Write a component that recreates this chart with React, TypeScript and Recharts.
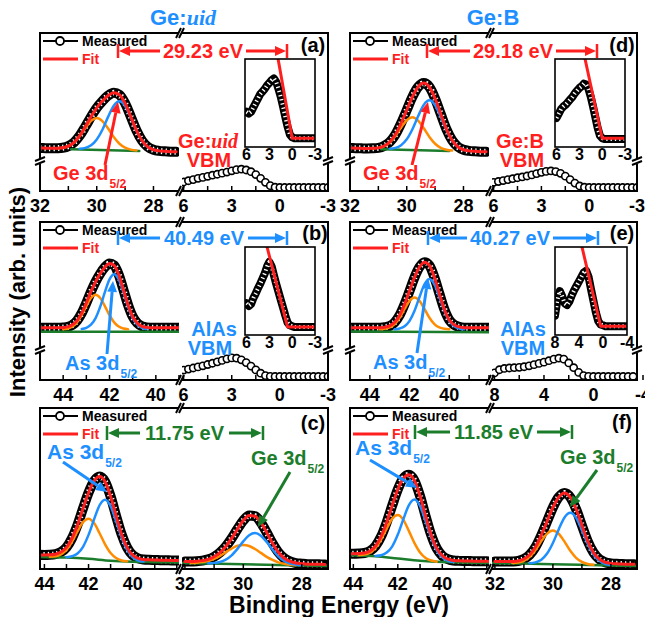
// =============================================================================
// XPS panels (a)-(f): core levels + valence band maxima, broken energy axes
// =============================================================================

import { LineChart, Line, XAxis, YAxis } from 'recharts'

const FONT = "'Liberation Sans', Arial, Helvetica, sans-serif"
const RED = '#ff1f1f'
const BLUE = '#1e8fff'
const GREEN = '#1b7d2c'
const ORANGE = '#ff8c00'

// ---- energy grids (eV) ----
const geGrid = [32, 31.8, 31.6, 31.4, 31.2, 31, 30.8, 30.6, 30.4, 30.2, 30, 29.8, 29.6, 29.4, 29.2, 29, 28.8, 28.6, 28.4, 28.2, 28, 27.8, 27.6, 27.4, 27.2]
const asGridB = [45, 44.8, 44.6, 44.4, 44.2, 44, 43.8, 43.6, 43.4, 43.2, 43, 42.8, 42.6, 42.4, 42.2, 42, 41.8, 41.6, 41.4, 41.2, 41, 40.8, 40.6, 40.4, 40.2, 40, 39.8, 39.6, 39.4, 39.2, 39]
const asGridE = [45, 44.75, 44.5, 44.25, 44, 43.75, 43.5, 43.25, 43, 42.75, 42.5, 42.25, 42, 41.75, 41.5, 41.25, 41, 40.75, 40.5, 40.25, 40, 39.75, 39.5, 39.25, 39, 38.75, 38.5, 38.25, 38]
const asGridCF = [44.25, 44, 43.75, 43.5, 43.25, 43, 42.75, 42.5, 42.25, 42, 41.75, 41.5, 41.25, 41, 40.75, 40.5, 40.25, 40, 39.75, 39.5, 39.25, 39, 38.75, 38.5, 38.25, 38, 37.75]
const vbmGrid = [6, 5.7, 5.4, 5.1, 4.8, 4.5, 4.2, 3.9, 3.6, 3.3, 3, 2.7, 2.4, 2.1, 1.8, 1.5, 1.2, 0.9, 0.6, 0.3, 0, -0.3, -0.6, -0.9, -1.2, -1.5, -1.8, -2.1, -2.4, -2.7, -3]
const vbmGridE = [8, 7.6, 7.2, 6.8, 6.4, 6, 5.6, 5.2, 4.8, 4.4, 4, 3.6, 3.2, 2.8, 2.4, 2, 1.6, 1.2, 0.8, 0.4, 0, -0.4, -0.8, -1.2, -1.6, -2, -2.4, -2.8, -3.2]
const insetGridE = [8, 7.6, 7.2, 6.8, 6.4, 6, 5.6, 5.2, 4.8, 4.4, 4, 3.6, 3.2, 2.8, 2.4, 2, 1.6, 1.2, 0.8, 0.4, 0, -0.4, -0.8, -1.2, -1.6, -2, -2.4, -2.8, -3.2, -3.6, -4]

// ---- ticks ----
const geTicks = [32, 31, 30, 29, 28]
const geLabels = [32, 30, 28]
const asTicksB = [45, 44, 43, 42, 41, 40, 39]
const asTicksE = [45, 44, 43, 42, 41, 40, 39, 38]
const asTicksCF = [44, 43, 42, 41, 40, 39, 38]
const asLabels = [44, 42, 40]
const vbTicks = [6, 4.5, 3, 1.5, 0, -1.5, -3]
const vbLabels = [6, 3, 0, -3]
const vbTicksE = [8, 6, 4, 2, 0, -2, -4]
const vbLabelsE = [8, 4, 0, -4]
const inTicks = [6, 3, 0, -3]
const inTicksE = [8, 4, 0, -4]

// ---- (a) Ge:uid ----
const aGeFit = [27.2, 27.1, 27.0, 27.1, 27.4, 28.4, 30.8, 35.0, 40.8, 47.0, 52.6, 56.9, 60.4, 62.2, 60.9, 55.5, 47.1, 38.4, 31.8, 27.9, 26.1, 25.4, 25.1, 24.9, 24.8]
const aGeLow = [27.1, 27.4, 28.4, 30.7, 34.7, 39.9, 44.4, 46.2, 44.2, 39.5, 34.1, 29.9, 27.4, 26.2, 25.7]
const aGeHigh = [26.8, 27.3, 28.9, 32.6, 38.8, 46.9, 54.0, 56.8, 53.8, 46.5, 38.2, 31.8, 27.9, 26.1, 25.4]
const aBgX = [30.9, 28.5]
const aBgY = [26.4, 25.3]
const aVbm = [5.7, 6.5, 7.2, 8.0, 8.6, 9.3, 10.0, 10.6, 11.3, 12.0, 12.8, 13.5, 13.8, 13.3, 12.2, 10.4, 8.0, 5.5, 3.4, 2.4, 2.2, 2.2, 2.2, 2.2, 2.2, 2.2, 2.2, 2.2, 2.2, 2.2, 2.2]
const aInset = [40, 38, 40, 45, 50, 55, 60, 63, 66, 70, 73, 76, 78, 74, 66, 57, 46, 34, 23, 14, 11, 10, 10, 10, 10, 10, 10, 10, 10, 10, 10]
const aInFitX = [1.85, 0, -3]
const aInFitY = [100, 10, 10]

// ---- (b) Ge:uid, AlAs ----
const bAsFit = [33.0, 33.0, 33.0, 33.0, 33.0, 33.2, 33.6, 34.9, 37.6, 42.3, 48.8, 55.9, 62.2, 67.3, 71.4, 73.7, 72.5, 66.6, 57.2, 47.6, 40.2, 36.0, 34.0, 33.3, 33.1, 33.0, 33.0, 33.0, 33.0, 33.0, 33.0]
const bAsLow = [32.2, 32.6, 33.9, 36.5, 41.0, 46.8, 51.9, 54.0, 51.9, 46.8, 41.0, 36.5, 33.9, 32.6, 32.2]
const bAsHigh = [32.3, 33.0, 35.0, 39.2, 46.4, 55.6, 63.7, 67.0, 63.7, 55.6, 46.4, 39.2, 35.0, 33.0, 32.3]
const bBgX = [45, 39]
const bBgY = [30.6, 30.6]
const bVbm = [6.3, 6.9, 7.6, 8.3, 9.0, 9.8, 10.6, 11.5, 12.4, 13.4, 14.0, 13.8, 12.8, 11.0, 8.8, 6.4, 4.3, 2.8, 2.3, 2.2, 2.2, 2.2, 2.2, 2.2, 2.2, 2.2, 2.2, 2.2, 2.2, 2.2, 2.2]
const bInset = [36, 33, 35, 42, 47, 53, 58, 64, 70, 78, 83, 78, 68, 58, 49, 40, 31, 22, 14, 11, 10, 9, 9, 9, 9, 9, 9, 9, 9, 9, 9]
const bInFitX = [3.3, 0.6, -3]
const bInFitY = [100, 9, 9]

// ---- (c) Ge:uid, As 3d + Ge 3d ----
const cAsFit = [8.8, 8.7, 8.8, 9.2, 10.5, 13.4, 19.1, 27.4, 37.6, 47.4, 54.6, 57.4, 54.2, 45.1, 32.9, 21.5, 13.3, 8.6, 6.6, 5.9, 5.7, 5.55, 5.5, 5.4, 5.35, 5.3, 5.3]
const cAsLow = [7.6, 7.9, 9.1, 11.9, 16.9, 23.3, 29.1, 31.2, 28.5, 22.2, 15.3, 9.9, 6.8, 5.3, 4.75]
const cAsHigh = [7.3, 7.9, 9.6, 13.8, 21.2, 30.8, 39.6, 43.0, 39.0, 29.7, 19.6, 11.8, 7.3, 5.3, 4.6]
const cAsBgX = [44.25, 43, 42, 41, 40, 39, 37.75]
const cAsBgY = [7.5, 7.1, 6.3, 5.1, 4.5, 4.25, 4.0]
const cGeFit = [4.6, 4.6, 4.8, 5.2, 6.0, 7.6, 10.2, 14.0, 19.0, 24.8, 30.1, 33.2, 32.8, 28.9, 22.7, 16.0, 10.4, 6.7, 4.7, 3.7, 3.3, 3.0, 2.95, 2.9, 2.8]
const cGeLow = [3.7, 3.9, 4.3, 5.0, 6.3, 8.15, 10.5, 12.7, 14.4, 14.95, 14.3, 12.4, 10.0, 7.55, 5.6, 4.1, 3.2, 2.7, 2.4]
const cGeHigh = [3.5, 3.7, 4.35, 5.8, 8.5, 12.5, 17.15, 20.9, 22.3, 20.7, 16.85, 12.1, 7.9, 5.0, 3.45, 2.7, 2.3]
const cGeBgX = [32.1, 30, 28, 27.1]
const cGeBgY = [3.7, 2.95, 2.2, 1.9]

// ---- (d) Ge:B ----
const dGeFit = [27.2, 27.1, 27.0, 26.9, 27.0, 27.3, 28.5, 31.0, 35.7, 42.8, 51.2, 59.6, 65.8, 68.3, 65.8, 58.5, 48.7, 39.1, 32.1, 28.0, 26.1, 25.4, 25.1, 24.9, 24.8]
const dGeLow = [27.0, 27.3, 28.3, 30.7, 34.8, 40.1, 44.8, 46.6, 44.6, 39.7, 34.2, 29.9, 27.3, 26.1, 25.6]
const dGeHigh = [26.8, 27.3, 29.0, 32.7, 39.1, 47.3, 54.5, 57.4, 54.3, 46.9, 38.5, 31.9, 28.0, 26.1, 25.4]
const dBgX = [30.9, 28.5]
const dBgY = [26.4, 25.3]
const dVbm = [5.5, 6.0, 6.6, 7.2, 7.8, 8.4, 8.9, 9.5, 10.2, 11.0, 11.8, 12.4, 12.7, 12.3, 11.2, 9.4, 7.2, 5.0, 3.2, 2.4, 2.2, 2.2, 2.2, 2.2, 2.2, 2.2, 2.2, 2.2, 2.2, 2.2, 2.2]
const dInset = [33, 38, 43, 46, 48, 51, 54, 57, 61, 64, 67, 69, 72, 71, 66, 57, 46, 34, 22, 13, 10, 9, 9, 9, 9, 9, 9, 9, 9, 9, 9]
const dInFitX = [2.25, 0, -3]
const dInFitY = [100, 10, 10]

// ---- (e) Ge:B, AlAs ----
const eAsFit = [33.0, 33.0, 33.0, 33.0, 33.0, 33.0, 33.1, 33.4, 34.2, 36.5, 41.0, 48.0, 56.4, 65.0, 71.5, 74.6, 72.5, 65.0, 54.7, 44.8, 38.0, 34.9, 33.6, 33.1, 33.0, 33.0, 33.0, 33.0, 33.0]
const eAsLow = [32.1, 32.4, 33.3, 35.4, 39.4, 45.0, 50.1, 52.2, 50.1, 45.0, 39.4, 35.4, 33.3, 32.4, 32.1]
const eAsHigh = [32.1, 32.6, 34.0, 37.4, 43.8, 52.5, 60.6, 64.0, 60.6, 52.5, 43.8, 37.4, 34.0, 32.6, 32.1]
const eBgX = [45, 38]
const eBgY = [30.7, 30.2]
const eVbm = [4.5, 6.5, 7.3, 7.6, 7.8, 8.0, 8.4, 9.0, 9.7, 10.5, 11.3, 12.2, 13.2, 13.8, 13.2, 10.8, 7.8, 4.8, 2.8, 2.3, 2.2, 2.2, 2.2, 2.2, 2.2, 2.2, 2.2, 2.2, 2.2]
const eInset = [22, 40, 50, 44, 36, 34, 38, 45, 51, 56, 61, 66, 71, 73, 66, 52, 39, 26, 16, 12, 11, 10, 10, 10, 10, 10, 10, 10, 10, 10, 10]
const eInFitX = [3.5, 0.4, -4]
const eInFitY = [100, 10, 10]

// ---- (f) Ge:B, As 3d + Ge 3d ----
const fAsFit = [9.6, 9.5, 9.6, 9.95, 11.2, 14.3, 20.2, 29.0, 39.5, 49.4, 56.4, 58.5, 54.8, 45.3, 32.75, 21.15, 12.8, 8.2, 6.1, 5.3, 5.05, 4.95, 4.9, 4.85, 4.8, 4.75, 4.7]
const fAsLow = [8.6, 8.95, 10.15, 13.1, 18.3, 25.1, 31.3, 33.5, 30.5, 23.5, 16.1, 10.3, 6.85, 5.25, 4.55]
const fAsHigh = [8.1, 8.5, 10.2, 14.1, 21.4, 31.0, 39.7, 43.1, 39.1, 29.7, 19.5, 11.6, 7.2, 5.1, 4.3]
const fAsBgX = [44.25, 43, 42, 41, 40, 37.75]
const fAsBgY = [8.6, 7.9, 6.5, 5.1, 4.3, 3.7]
const fGeFit = [4.7, 4.6, 4.6, 4.7, 5.0, 6.2, 8.8, 13.7, 21.0, 29.6, 38.2, 44.6, 47.2, 44.5, 37.2, 27.1, 17.3, 10.2, 6.1, 4.2, 3.5, 3.2, 3.05, 3.0, 2.9]
const fGeLow = [3.7, 4.0, 5.1, 7.55, 11.8, 17.3, 22.0, 23.95, 21.9, 17.0, 11.3, 6.95, 4.4, 3.1, 2.6]
const fGeHigh = [3.5, 4.1, 5.8, 9.6, 16.15, 24.6, 32.0, 34.9, 31.85, 24.3, 15.7, 9.0, 5.05, 3.2, 2.5]
const fGeBgX = [32.1, 30, 28, 27.1]
const fGeBgY = [3.7, 2.95, 2.2, 1.9]

type Curve = { xs: number[]; ys: number[]; color: string; w?: number; dots?: boolean; dash?: string; straight?: boolean }

const RING = { r: 3.6, fill: '#fff', stroke: '#000', strokeWidth: 1.6 }

// measured (dense open circles -> black band with white texture), background, two components, fit
const peak = (xs: number[], fit: number[], bgX: number[], bgY: number[], lowX: number[], low: number[], highX: number[], high: number[]): Curve[] => [
  { xs, ys: fit, color: '#000', w: 10 },
  { xs, ys: fit, color: '#fff', w: 6, dash: '1.3 3.2' },
  { xs: bgX, ys: bgY, color: GREEN, w: 2.5 },
  { xs: lowX, ys: low, color: ORANGE, w: 2.5 },
  { xs: highX, ys: high, color: BLUE, w: 2.5 },
  { xs, ys: fit, color: RED, w: 3 }
]
const measured = (xs: number[], ys: number[]): Curve[] => [{ xs, ys, color: '#000', w: 1.5, dots: true }]
const inset = (xs: number[], ys: number[], fx: number[], fy: number[]): Curve[] => [
  { xs, ys, color: '#000', w: 8, straight: true },
  { xs, ys, color: '#fff', w: 4, dash: '1.3 3', straight: true },
  { xs: fx, ys: fy, color: RED, w: 3, straight: true }
]

interface SubProps {
  x: number
  y: number
  w: number
  h: number
  domain: [number, number]
  ticks: number[]
  labels: number[]
  curves: Curve[]
  small?: boolean
}

function Sub({ x, y, w, h, domain, ticks, labels, curves, small = false }: SubProps) {
  const fs = small ? 16 : 18
  const tick = (p: any) => {
    const v = p.payload.value
    if (!labels.includes(v)) return <g />
    return (
      <text x={p.x} y={p.y} dy="0.72em" textAnchor="middle" fontFamily={FONT} fontWeight="bold" fontSize={fs} fill="#000">
        {v}
      </text>
    )
  }
  return (
    <div style={{ position: 'absolute', left: x, top: y }}>
      <LineChart width={w} height={h + 30} margin={{ top: 0, right: 0, bottom: 0, left: 0 }}>
        <XAxis
          type="number"
          dataKey="x"
          domain={domain}
          reversed
          allowDataOverflow
          ticks={ticks}
          interval={0}
          axisLine={false}
          tickLine={small ? false : { stroke: '#000', strokeWidth: 1.5 }}
          tickSize={small ? 0 : -5}
          tickMargin={small ? 1 : 13}
          height={30}
          tick={tick}
        />
        <YAxis type="number" domain={[0, 100]} hide allowDataOverflow />
        {curves.map((c, i) => (
          <Line
            key={i}
            data={c.xs.map((v, j) => ({ x: v, y: c.ys[j] }))}
            dataKey="y"
            type={c.dots || c.straight ? 'linear' : 'monotone'}
            stroke={c.color}
            strokeWidth={c.w ?? 2.5}
            strokeDasharray={c.dash}
            strokeLinejoin="round"
            strokeLinecap={c.dash ? 'butt' : 'round'}
            dot={c.dots ? RING : false}
            activeDot={false}
            isAnimationActive={false}
          />
        ))}
      </LineChart>
    </div>
  )
}

// ---- overlay helpers ----
function Arrow({ x1, y1, x2, y2, color, w = 3, head = 11 }: { x1: number; y1: number; x2: number; y2: number; color: string; w?: number; head?: number }) {
  const a = Math.atan2(y2 - y1, x2 - x1)
  const bx = x2 - head * Math.cos(a)
  const by = y2 - head * Math.sin(a)
  const nx = -Math.sin(a) * head * 0.45
  const ny = Math.cos(a) * head * 0.45
  return (
    <g>
      <line x1={x1} y1={y1} x2={bx} y2={by} stroke={color} strokeWidth={w} />
      <polygon points={`${x2},${y2} ${bx + nx},${by + ny} ${bx - nx},${by - ny}`} fill={color} />
    </g>
  )
}

function Span({ xl, xr, tl, tr, y, color, label }: { xl: number; xr: number; tl: number; tr: number; y: number; color: string; label: string }) {
  return (
    <g>
      <line x1={xl} y1={y - 7} x2={xl} y2={y + 7} stroke={color} strokeWidth={2.5} />
      <line x1={xr} y1={y - 7} x2={xr} y2={y + 7} stroke={color} strokeWidth={2.5} />
      <Arrow x1={tl} y1={y} x2={xl + 1} y2={y} color={color} />
      <Arrow x1={tr} y1={y} x2={xr - 1} y2={y} color={color} />
      <text x={(tl + tr) / 2} y={y + 7} textAnchor="middle" fontSize={20} fontWeight="bold" fill={color}>
        {label}
      </text>
    </g>
  )
}

function Core({ x, y, name, color, fs = 20 }: { x: number; y: number; name: string; color: string; fs?: number }) {
  return (
    <text x={x} y={y} fontSize={fs} fontWeight="bold" fill={color}>
      {name}
      <tspan dx={1} dy={8} fontSize={12}>5/2</tspan>
    </text>
  )
}

function Legend({ L, T }: { L: number; T: number }) {
  return (
    <g>
      <line x1={L + 3} y1={T + 8} x2={L + 38} y2={T + 8} stroke="#000" strokeWidth={2} />
      <circle cx={L + 20} cy={T + 8} r={4} fill="#fff" stroke="#000" strokeWidth={1.8} />
      <text x={L + 42} y={T + 13} fontSize={14} fontWeight="bold" fill="#000">Measured</text>
      <line x1={L + 3} y1={T + 26} x2={L + 38} y2={T + 26} stroke={RED} strokeWidth={3} />
      <text x={L + 42} y={T + 31} fontSize={14} fontWeight="bold" fill={RED}>Fit</text>
    </g>
  )
}

function Frame({ L, b1, b2, R, T, B, ybreak }: { L: number; b1: number; b2: number; R: number; T: number; B: number; ybreak: boolean }) {
  return (
    <g stroke="#000" strokeWidth={2} fill="none">
      <path d={`M${b1} ${T} H${L} V${B} H${b1}`} />
      <path d={`M${b2} ${T} H${R} V${B} H${b2}`} />
      {[T, B].map(y => (
        <g key={y}>
          <line x1={b1 - 3} y1={y + 5} x2={b1 + 2} y2={y - 5} />
          <line x1={b2 - 3} y1={y + 5} x2={b2 + 2} y2={y - 5} />
        </g>
      ))}
      {ybreak &&
        [L, R].map(x => (
          <g key={x}>
            <rect x={x - 3} y={B - 32} width={6} height={5} fill="#fff" stroke="none" />
            <line x1={x - 5} y1={B - 30} x2={x + 5} y2={B - 34} />
            <line x1={x - 5} y1={B - 26} x2={x + 5} y2={B - 30} />
          </g>
        ))}
    </g>
  )
}

export default function App() {
  return (
    <div style={{ position: 'absolute', left: 0, top: 0, width: 645, height: 617, background: '#fff', overflow: 'hidden', fontFamily: FONT }}>
      <style>{'.recharts-surface{overflow:visible}'}</style>

      {/* (a) */}
      <Sub x={40} y={33} w={139} h={158} domain={[27.1, 32]} ticks={geTicks} labels={geLabels}
        curves={peak(geGrid, aGeFit, aBgX, aBgY, geGrid.slice(3, 18), aGeLow, geGrid.slice(7, 22), aGeHigh)} />
      <Sub x={182} y={33} w={146} h={158} domain={[-3, 6.1]} ticks={vbTicks} labels={vbLabels} curves={measured(vbmGrid, aVbm)} />
      <Sub x={245} y={59} w={70} h={88} domain={[-3, 6.2]} ticks={inTicks} labels={inTicks} small
        curves={inset(vbmGrid, aInset, aInFitX, aInFitY)} />

      {/* (b) */}
      <Sub x={40} y={222} w={139} h={158} domain={[39, 45]} ticks={asTicksB} labels={asLabels}
        curves={peak(asGridB, bAsFit, bBgX, bBgY, asGridB.slice(5, 20), bAsLow, asGridB.slice(9, 24), bAsHigh)} />
      <Sub x={182} y={222} w={146} h={158} domain={[-3, 6.1]} ticks={vbTicks} labels={vbLabels} curves={measured(vbmGrid, bVbm)} />
      <Sub x={245} y={247} w={70} h={88} domain={[-3, 6.2]} ticks={inTicks} labels={inTicks} small
        curves={inset(vbmGrid, bInset, bInFitX, bInFitY)} />

      {/* (c) */}
      <Sub x={40} y={408} w={139} h={161} domain={[37.9, 44.2]} ticks={asTicksCF} labels={asLabels}
        curves={peak(asGridCF, cAsFit, cAsBgX, cAsBgY, asGridCF.slice(2, 17), cAsLow, asGridCF.slice(5, 20), cAsHigh)} />
      <Sub x={182} y={408} w={146} h={161} domain={[27.1, 32.1]} ticks={geTicks} labels={geLabels}
        curves={peak(geGrid, cGeFit, cGeBgX, cGeBgY, geGrid.slice(1, 20), cGeLow, geGrid.slice(4, 21), cGeHigh)} />

      {/* (d) */}
      <Sub x={350} y={33} w={139} h={158} domain={[27.1, 32]} ticks={geTicks} labels={geLabels}
        curves={peak(geGrid, dGeFit, dBgX, dBgY, geGrid.slice(4, 19), dGeLow, geGrid.slice(7, 22), dGeHigh)} />
      <Sub x={492} y={33} w={145} h={158} domain={[-3, 6.1]} ticks={vbTicks} labels={vbLabels} curves={measured(vbmGrid, dVbm)} />
      <Sub x={555} y={59} w={70} h={88} domain={[-3, 6.2]} ticks={inTicks} labels={inTicks} small
        curves={inset(vbmGrid, dInset, dInFitX, dInFitY)} />

      {/* (e) */}
      <Sub x={350} y={222} w={139} h={158} domain={[38, 45]} ticks={asTicksE} labels={asLabels}
        curves={peak(asGridE, eAsFit, eBgX, eBgY, asGridE.slice(6, 21), eAsLow, asGridE.slice(9, 24), eAsHigh)} />
      <Sub x={492} y={222} w={151} h={158} domain={[-4, 8.2]} ticks={vbTicksE} labels={vbLabelsE} curves={measured(vbmGridE, eVbm)} />
      <Sub x={555} y={247} w={72} h={88} domain={[-4, 8]} ticks={inTicksE} labels={inTicksE} small
        curves={inset(insetGridE, eInset, eInFitX, eInFitY)} />

      {/* (f) */}
      <Sub x={350} y={408} w={139} h={161} domain={[37.9, 44.15]} ticks={asTicksCF} labels={asLabels}
        curves={peak(asGridCF, fAsFit, fAsBgX, fAsBgY, asGridCF.slice(2, 17), fAsLow, asGridCF.slice(5, 20), fAsHigh)} />
      <Sub x={492} y={408} w={145} h={161} domain={[27.1, 32.1]} ticks={geTicks} labels={geLabels}
        curves={peak(geGrid, fGeFit, fGeBgX, fGeBgY, geGrid.slice(3, 18), fGeLow, geGrid.slice(6, 21), fGeHigh)} />

      {/* frames, labels, arrows */}
      <svg width={645} height={617} style={{ position: 'absolute', left: 0, top: 0, pointerEvents: 'none' }} fontFamily={FONT}>
        <text x={183} y={25} textAnchor="middle" fontSize={22} fontWeight="bold" fill={BLUE}>
          Ge:<tspan fontFamily="'Liberation Serif', serif" fontStyle="italic">uid</tspan>
        </text>
        <text x={493} y={25} textAnchor="middle" fontSize={22} fontWeight="bold" fill={BLUE}>Ge:B</text>
        <text transform="translate(17,292) rotate(-90)" textAnchor="middle" dy="0.36em" fontSize={22} fontWeight="bold" fill="#000">
          Intensity (arb. units)
        </text>
        <text x={339} y={613} textAnchor="middle" fontSize={23} fontWeight="bold" fill="#000">Binding Energy (eV)</text>

        <Frame L={40} b1={179} b2={182} R={328} T={33} B={191} ybreak />
        <Frame L={40} b1={179} b2={182} R={328} T={222} B={380} ybreak />
        <Frame L={40} b1={179} b2={182} R={328} T={408} B={569} ybreak={false} />
        <Frame L={350} b1={489} b2={492} R={637} T={33} B={191} ybreak />
        <Frame L={350} b1={489} b2={492} R={637} T={222} B={380} ybreak />
        <Frame L={350} b1={489} b2={492} R={637} T={408} B={569} ybreak={false} />

        <g fill="none" stroke="#000" strokeWidth={1.6}>
          <rect x={245} y={59} width={70} height={88} />
          <rect x={555} y={59} width={70} height={88} />
          <rect x={245} y={247} width={70} height={88} />
          <rect x={555} y={247} width={72} height={88} />
        </g>

        <Legend L={40} T={33} />
        <Legend L={40} T={222} />
        <Legend L={40} T={408} />
        <Legend L={350} T={33} />
        <Legend L={350} T={222} />
        <Legend L={350} T={408} />

        <g fontSize={20} fontWeight="bold" fill="#000" textAnchor="middle">
          <text x={313} y={52}>(a)</text>
          <text x={315} y={240}>(b)</text>
          <text x={313} y={430}>(c)</text>
          <text x={622} y={52}>(d)</text>
          <text x={622} y={240}>(e)</text>
          <text x={622} y={429}>(f)</text>
        </g>

        <Span xl={118} xr={287} tl={160} tr={246} y={51} color={RED} label="29.23 eV" />
        <Span xl={427} xr={597} tl={470} tr={556} y={51} color={RED} label="29.18 eV" />
        <Span xl={118} xr={287} tl={160} tr={248} y={238} color={BLUE} label="40.49 eV" />
        <Span xl={428} xr={598} tl={467} tr={553} y={238} color={BLUE} label="40.27 eV" />
        <Span xl={107} xr={263} tl={140} tr={229} y={433} color={GREEN} label="11.75 eV" />
        <Span xl={415} xr={572} tl={450} tr={537} y={432} color={GREEN} label="11.85 eV" />

        <Core x={53} y={180} name="Ge 3d" color={RED} />
        <Arrow x1={105} y1={165} x2={118} y2={102} color={RED} />
        <Core x={363} y={180} name="Ge 3d" color={RED} />
        <Arrow x1={412} y1={165} x2={428} y2={102} color={RED} />
        <Core x={65} y={370} name="As 3d" color={BLUE} />
        <Arrow x1={107} y1={354} x2={113} y2={281} color={BLUE} />
        <Core x={373} y={369} name="As 3d" color={BLUE} />
        <Arrow x1={417} y1={353} x2={428} y2={278} color={BLUE} />
        <Core x={47} y={459} name="As 3d" color={BLUE} fs={21} />
        <Arrow x1={63} y1={462} x2={107} y2={492} color={BLUE} />
        <Core x={251} y={465} name="Ge 3d" color={GREEN} />
        <Arrow x1={290} y1={472} x2={258} y2={527} color={GREEN} />
        <Core x={355} y={455} name="As 3d" color={BLUE} fs={21} />
        <Arrow x1={370} y1={460} x2={417} y2={488} color={BLUE} />
        <Core x={560} y={464} name="Ge 3d" color={GREEN} />
        <Arrow x1={597} y1={470} x2={570} y2={507} color={GREEN} />

        <g fontSize={20} fontWeight="bold" textAnchor="middle">
          <text x={208} y={148} fill={RED}>
            Ge:<tspan fontFamily="'Liberation Serif', serif" fontStyle="italic">uid</tspan>
          </text>
          <text x={209} y={167} fill={RED}>VBM</text>
          <text x={520} y={148} fill={RED}>Ge:B</text>
          <text x={522} y={167} fill={RED}>VBM</text>
          <text x={214} y={336} fill={BLUE}>AlAs</text>
          <text x={210} y={355} fill={BLUE}>VBM</text>
          <text x={523} y={336} fill={BLUE}>AlAs</text>
          <text x={523} y={355} fill={BLUE}>VBM</text>
        </g>
      </svg>
    </div>
  )
}
